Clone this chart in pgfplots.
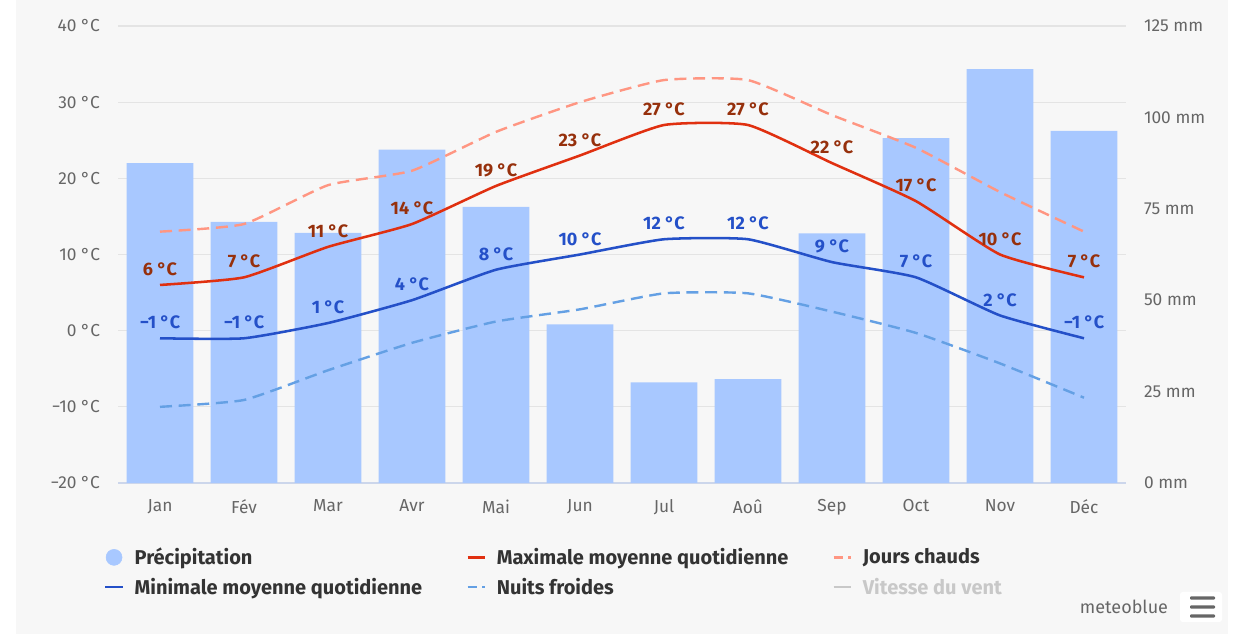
\documentclass[border=0pt]{standalone}
\usepackage{pgfplots}
\pgfplotsset{compat=1.18}
\usepackage{fontspec}
\setmainfont{Fira Sans}
\definecolor{bg}{RGB}{247,247,247}
\definecolor{barc}{RGB}{168,200,255}
\definecolor{maxc}{RGB}{224,48,16}
\definecolor{maxl}{RGB}{150,48,12}
\definecolor{minc}{RGB}{36,80,200}
\definecolor{hot}{RGB}{255,150,130}
\definecolor{cold}{RGB}{100,160,228}
\definecolor{tickc}{RGB}{102,102,102}
\definecolor{gridc}{RGB}{228,228,228}
\definecolor{axline}{RGB}{204,214,235}
\definecolor{leg}{RGB}{51,51,51}
\definecolor{ventc}{RGB}{200,200,200}
\pgfplotsset{
  dashleg/.style={legend image code/.code={\draw[##1, dash pattern=on 7pt off 4pt on 2pt off 10pt] (0pt,0pt) -- (13pt,0pt);}},
  dotleg/.style={legend image code/.code={\fill[barc] (6.5pt,0pt) circle (6pt);}},
}
\pgfplotstableread{
x p
0 87.5
1 71.4
2 68.4
3 91.2
4 75.5
5 43.4
6 27.5
7 28.4
8 68.3
9 94.3
10 113.2
11 96.3
}\precip
\pgfplotstableread{
x h c
0 13.0 -10.0
1 14.0 -9.1
2 19.1 -5.2
3 21.0 -1.6
4 26.1 1.2
5 30.0 2.8
6 32.9 4.9
7 32.9 4.9
8 28.3 2.5
9 24.0 -0.3
10 18.2 -4.3
11 13.0 -8.8
}\extremes
\begin{document}
\begin{tikzpicture}
\path[use as bounding box] (0,0) rectangle (939pt,475.5pt);
\fill[bg] (12pt,0) rectangle (921pt,475.5pt);
% base temperature axis: grid and labels
\begin{axis}[
  at={(88.5pt,113.25pt)}, anchor=south west,
  scale only axis, width=756pt, height=342.75pt,
  xmin=-0.5, xmax=11.5, ymin=-20, ymax=40,
  ytick={-20,-10,...,40},
  yticklabels={−20 °C,−10 °C,0 °C,10 °C,20 °C,30 °C,40 °C},
  xtick={0,...,11},
  xticklabels={Jan,Fév,Mar,Avr,Mai,Jun,Jul,Aoû,Sep,Oct,Nov,Déc},
  ymajorgrids, major grid style={gridc, line width=0.8pt},
  axis x line*=bottom, axis y line*=left,
  x axis line style={axline, line width=0.8pt, -},
  y axis line style={draw=none},
  major tick length=0pt,
  tick label style={font=\fontsize{13}{15}\selectfont, text=tickc},
  yticklabel style={xshift=-10pt},
  xticklabel style={yshift=-9pt},
]
\addplot[draw=none] coordinates {(0,0)};
\end{axis}
% precipitation bars
\begin{axis}[
  at={(88.5pt,113.25pt)}, anchor=south west,
  scale only axis, width=756pt, height=342.75pt,
  xmin=-0.5, xmax=11.5, ymin=0, ymax=125,
  axis y line*=right, axis x line=none,
  y axis line style={draw=none},
  major tick length=0pt,
  ytick={0,25,...,125},
  yticklabels={0 mm,25 mm,50 mm,75 mm,100 mm,125 mm},
  tick label style={font=\fontsize{13}{15}\selectfont, text=tickc},
  yticklabel style={xshift=10pt},
]
\addplot[ybar, bar width=50pt, fill=barc, draw=none] table[x=x,y=p] {\precip};
\end{axis}
% temperature lines
\begin{axis}[
  at={(88.5pt,113.25pt)}, anchor=south west,
  scale only axis, width=756pt, height=342.75pt,
  xmin=-0.5, xmax=11.5, ymin=-20, ymax=40,
  axis lines=none, clip=false,
  legend columns=3,
  legend cell align=left,
  legend style={at={(-0.018,-0.13)}, anchor=north west, draw=none, fill=none,
    font=\bfseries\fontsize{15}{17}\selectfont, text=leg,
    row sep=4.5pt,
    /tikz/every odd column/.append style={column sep=6pt},
    /tikz/every even column/.append style={column sep=31pt}},
  legend image code/.code={\draw[#1] (0pt,0pt) -- (13pt,0pt);},
  every node near coord/.append style={font=\bfseries\fontsize{13.5}{15}\selectfont, anchor=south, yshift=2.5pt},
]
\addlegendimage{dotleg}
\addlegendentry{Précipitation}
\addplot[maxc, line width=1.9pt, smooth, tension=0.3,
  nodes near coords, point meta=explicit symbolic,
  every node near coord/.append style={text=maxl}] coordinates {
 (0,6) [6 °C] (1,7) [7 °C] (2,11) [11 °C] (3,14) [14 °C] (4,19) [19 °C] (5,23) [23 °C]
 (6,27) [27 °C] (7,27) [27 °C] (8,22) [22 °C] (9,17) [17 °C] (10,10) [10 °C] (11,7) [7 °C]};
\addlegendentry{Maximale moyenne quotidienne}
\addplot[hot, line width=1.8pt, smooth, tension=0.3, dash pattern=on 9pt off 5pt, dashleg] table[x=x,y=h] {\extremes};
\addlegendentry{Jours chauds}
\addplot[minc, line width=1.9pt, smooth, tension=0.3,
  nodes near coords, point meta=explicit symbolic,
  every node near coord/.append style={text=minc}] coordinates {
 (0,-1) [−1 °C] (1,-1) [−1 °C] (2,1) [1 °C] (3,4) [4 °C] (4,8) [8 °C] (5,10) [10 °C]
 (6,12) [12 °C] (7,12) [12 °C] (8,9) [9 °C] (9,7) [7 °C] (10,2) [2 °C] (11,-1) [−1 °C]};
\addlegendentry{Minimale moyenne quotidienne}
\addplot[cold, line width=1.8pt, smooth, tension=0.3, dash pattern=on 9pt off 5pt, dashleg] table[x=x,y=c] {\extremes};
\addlegendentry{Nuits froides}
\addlegendimage{ventc, line width=1.6pt}
\addlegendentry{\textcolor{ventc}{Vitesse du vent}}
\end{axis}
\node[font=\fontsize{13.5}{15}\selectfont, text=tickc] at (843pt,20.25pt) {meteoblue};
\fill[white, rounded corners=2pt] (885pt,9pt) rectangle (916.5pt,31.5pt);
\foreach \yy in {13.5,20.25,27} {\fill[tickc, rounded corners=0.8pt] (892.5pt,\yy pt-1.3pt) rectangle (911.25pt,\yy pt+1.3pt);}
\end{tikzpicture}
\end{document}
